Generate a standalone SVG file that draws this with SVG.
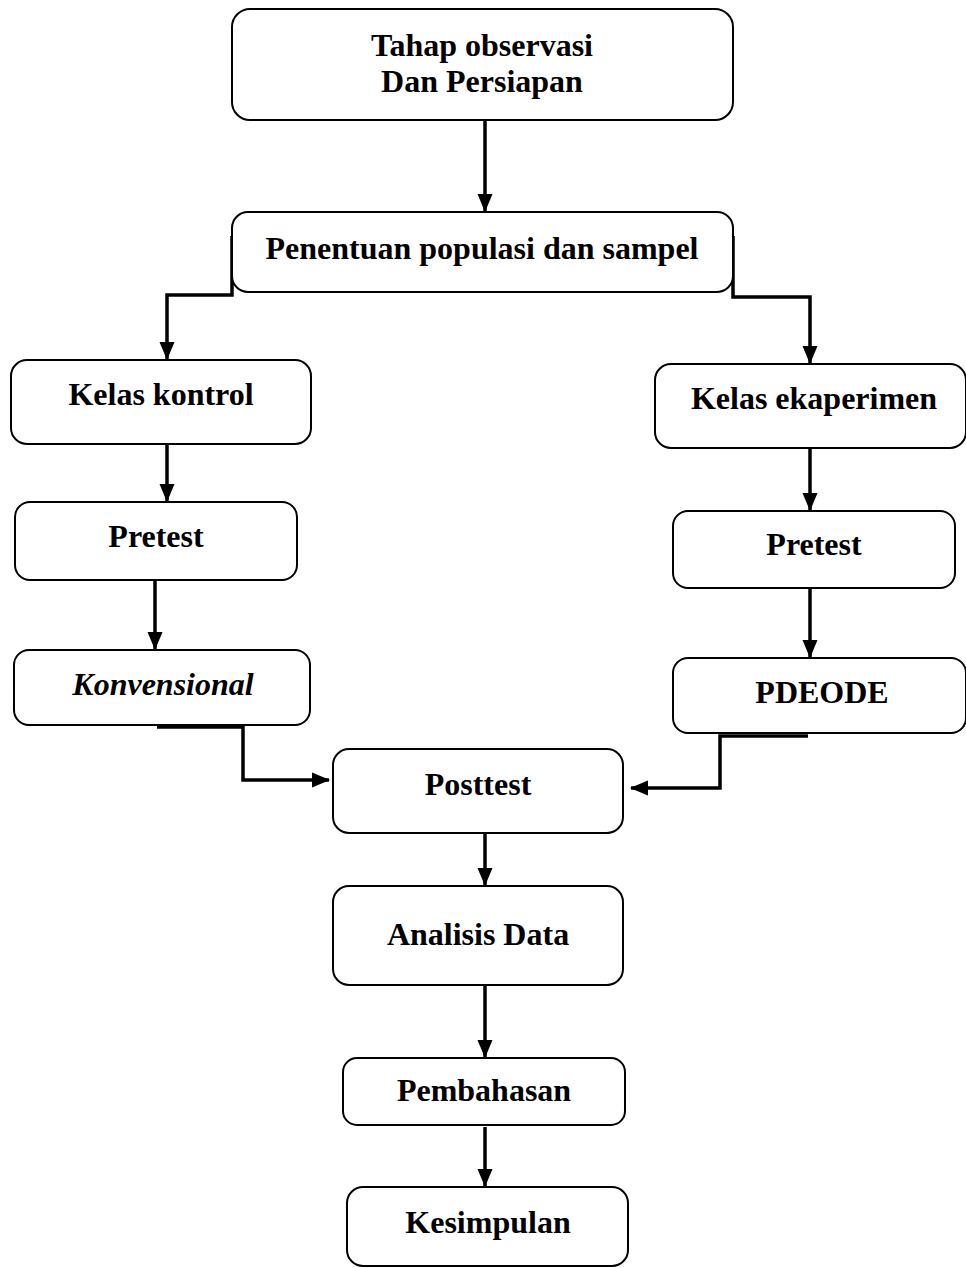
<svg xmlns="http://www.w3.org/2000/svg" width="966" height="1268" viewBox="0 0 966 1268">
<style>
.box{fill:#fff;stroke:#000;stroke-width:2}
.t{font-family:"Liberation Serif","Times New Roman",serif;font-weight:bold;font-size:32px;fill:#000;text-anchor:middle}
.c{fill:none;stroke:#000;stroke-width:3.5}
</style>
<defs>
<marker id="ah" markerUnits="userSpaceOnUse" markerWidth="18" markerHeight="18" viewBox="0 0 18 18" refX="17" refY="9" orient="auto">
<path d="M0,1.5 L18,9 L0,16.5 Z" fill="#000"/>
</marker>
</defs>
<g id="connectors">
<line class="c" x1="485" y1="121" x2="485" y2="211" marker-end="url(#ah)"/>
<polyline class="c" points="232,236 232,295 167,295 167,359" marker-end="url(#ah)"/>
<polyline class="c" points="733,236 733,297 810,297 810,363" marker-end="url(#ah)"/>
<line class="c" x1="167" y1="445" x2="167" y2="501" marker-end="url(#ah)"/>
<line class="c" x1="155" y1="581" x2="155" y2="649" marker-end="url(#ah)"/>
<line class="c" x1="810" y1="449" x2="810" y2="510" marker-end="url(#ah)"/>
<line class="c" x1="810" y1="589" x2="810" y2="657" marker-end="url(#ah)"/>
<polyline class="c" points="157,727 243,727 243,780 329,780" marker-end="url(#ah)"/>
<polyline class="c" points="808,736 720,736 720,788 631,788" marker-end="url(#ah)"/>
<line class="c" x1="485" y1="834" x2="485" y2="885" marker-end="url(#ah)"/>
<line class="c" x1="485" y1="986" x2="485" y2="1057" marker-end="url(#ah)"/>
<line class="c" x1="485" y1="1127" x2="485" y2="1186" marker-end="url(#ah)"/>
</g>
<g id="n1"><rect class="box" x="232" y="9" width="501" height="111" rx="18"/><text class="t" x="482" y="56">Tahap observasi</text><text class="t" x="482" y="92">Dan Persiapan</text></g>
<g id="n2"><rect class="box" x="232" y="212" width="501" height="80" rx="16"/><text class="t" x="482" y="259">Penentuan populasi dan sampel</text></g>
<g id="n3"><rect class="box" x="11" y="360" width="300" height="84" rx="16"/><text class="t" x="161" y="405">Kelas kontrol</text></g>
<g id="n4"><rect class="box" x="655" y="364" width="311" height="84" rx="16"/><text class="t" x="814" y="409">Kelas ekaperimen</text></g>
<g id="n5"><rect class="box" x="15" y="502" width="282" height="78" rx="15"/><text class="t" x="156" y="547">Pretest</text></g>
<g id="n6"><rect class="box" x="673" y="511" width="282" height="77" rx="15"/><text class="t" x="814" y="555">Pretest</text></g>
<g id="n7"><rect class="box" x="14" y="650" width="296" height="75" rx="15"/><text class="t" x="163" y="695" font-style="italic">Konvensional</text></g>
<g id="n8"><rect class="box" x="673" y="658" width="293" height="75" rx="15"/><text class="t" x="822" y="703">PDEODE</text></g>
<g id="n9"><rect class="box" x="333" y="749" width="290" height="84" rx="16"/><text class="t" x="478" y="795">Posttest</text></g>
<g id="n10"><rect class="box" x="333" y="886" width="290" height="99" rx="16"/><text class="t" x="478" y="945">Analisis Data</text></g>
<g id="n11"><rect class="box" x="343" y="1058" width="282" height="67" rx="14"/><text class="t" x="484" y="1101">Pembahasan</text></g>
<g id="n12"><rect class="box" x="347" y="1187" width="281" height="79" rx="16"/><text class="t" x="488" y="1233">Kesimpulan</text></g>
</svg>
